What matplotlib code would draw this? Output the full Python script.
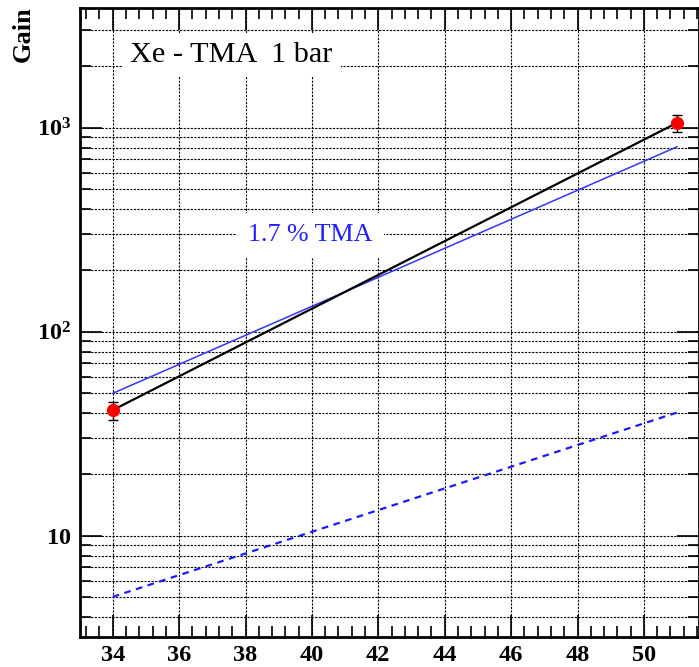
# Gain vs voltage for Xe-TMA at 1 bar, ROOT-like styling

import matplotlib
matplotlib.use("Agg")
from matplotlib import pyplot as plt
from matplotlib.ticker import MultipleLocator, LogLocator, FixedLocator, FuncFormatter


# measured points
volt_pts = [34, 51]
gain_pts = [41.3, 1058]
gain_err = [4.2, 100]

# exponential fit through the points
fit_x = [34, 51]
fit_y = [41.3, 1058]

# 1.7 % TMA curves (solid and dashed)
tma_x = [34, 51]
tma_solid = [49.9, 807]
tma_dashed = [5.02, 40.2]

x_ticks = [34, 36, 38, 40, 42, 44, 46, 48, 50]
y_major = [10, 100, 1000]
y_labels = {10: r"$\mathbf{10}$", 100: r"$\mathbf{10^{2}}$", 1000: r"$\mathbf{10^{3}}$"}

plt.rcParams["font.family"] = ["Liberation Serif", "DejaVu Serif"]
plt.rcParams["mathtext.fontset"] = "custom"
plt.rcParams["mathtext.rm"] = "Liberation Serif"
plt.rcParams["mathtext.bf"] = "Liberation Serif:bold"

W, H = 699, 667
fig = plt.figure(figsize=(W / 100, H / 100), dpi=100)
ax = fig.add_axes([79.5 / W, 30 / H, (W - 79.5) / W, 629 / H])

ax.set_yscale("log")
ax.set_xlim(33, 33 + (W - 79.5) / 33.2)
ax.set_ylim(3.19, 3865)

grid_style = dict(color="black", linestyle=(0, (2, 1.2)), linewidth=0.8)
ax.xaxis.set_major_locator(FixedLocator(x_ticks))
ax.xaxis.set_minor_locator(MultipleLocator(0.4))
ax.yaxis.set_major_locator(FixedLocator(y_major))
ax.yaxis.set_minor_locator(LogLocator(base=10, subs=range(2, 10)))
ax.yaxis.set_major_formatter(FuncFormatter(lambda v, p: y_labels.get(int(round(v)), "")))
ax.yaxis.set_minor_formatter(FuncFormatter(lambda v, p: ""))
ax.xaxis.set_major_formatter(FuncFormatter(lambda v, p: "%d" % v))
ax.grid(True, axis="x", which="major", **grid_style)
ax.grid(True, axis="y", which="both", **grid_style)
ax.set_axisbelow(True)

ax.tick_params(which="both", direction="in", top=True, right=True, width=1.2,
               labelsize=17.5)
ax.tick_params(which="major", length=16, pad=6)
ax.tick_params(which="minor", length=8)
for lbl in ax.get_xticklabels() + ax.get_yticklabels():
    lbl.set_fontweight("bold")
for sp in ax.spines.values():
    sp.set_linewidth(2)

ax.plot(tma_x, tma_solid, color="#3333ff", lw=1.1, zorder=3)
ax.plot(tma_x, tma_dashed, color="#1a1aff", lw=1.6, linestyle=(0, (3, 2.5)), zorder=3)
ax.plot(fit_x, fit_y, color="black", lw=1.6, zorder=4)
ax.errorbar(volt_pts, gain_pts, yerr=gain_err, fmt="o", color="red", ms=8.5,
            ecolor="black", elinewidth=1, capsize=3.5, capthick=1, zorder=5)

# labels placed in figure pixels (measured from the top)
def px(x, y):
    return x / W, 1 - y / H

ax.text(*px(130, 55), "Xe - TMA  1 bar", transform=fig.transFigure, fontsize=21.8,
        va="center", ha="left",
        bbox=dict(facecolor="white", edgecolor="none", pad=6))
ax.text(*px(248, 235), "1.7 % TMA", transform=fig.transFigure, fontsize=18.7,
        color="#2020ff", va="center", ha="left",
        bbox=dict(facecolor="white", edgecolor="none", pad=8))

fig.text(*px(23, 6), "Gain", rotation=90, ha="center", va="top",
         fontsize=19, fontweight="bold")

fig.savefig("out.png", dpi=100)
